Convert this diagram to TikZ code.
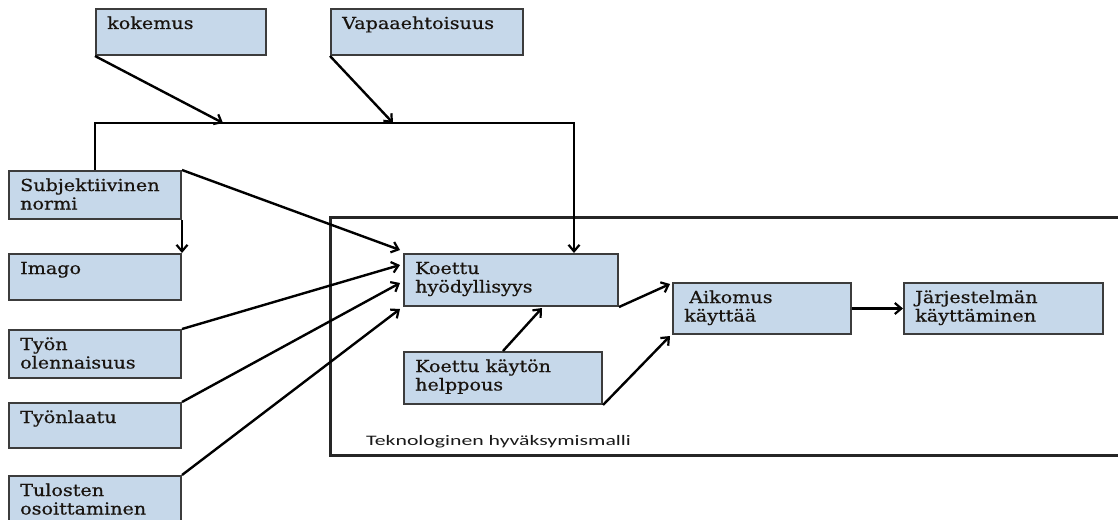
\documentclass[tikz,border=0pt]{standalone}
\usepackage{fontspec}
\setmainfont{DejaVu Serif}[FakeStretch=1.16,FakeBold=0.6]
\setsansfont{Carlito}[FakeStretch=1.5]
\usetikzlibrary{arrows.meta}
\definecolor{boxfill}{RGB}{198,216,234}
\definecolor{boxline}{RGB}{60,60,60}
\definecolor{inktext}{RGB}{25,20,15}

% box with its caption set at the top left corner
\newcommand\mkbox[6]{%
  \node[box,minimum width=#4pt,minimum height=#5pt] (#1) at (#2,#3) {};
  \node[lbl] (#1-t) at ([xshift=12pt,yshift=-21pt]#1.north west)
    {\parbox[t]{#4pt}{\raggedright #6}};}

\begin{document}
\begin{tikzpicture}[x=1pt,y=-1pt,
  box/.style={draw=boxline,fill=boxfill,line width=2pt,inner sep=0pt,anchor=north west},
  lbl/.style={anchor=base west,inner sep=0pt,font=\fontsize{16.5}{18.5}\selectfont,text=inktext},
  arr/.style={line width=2.4pt,-{Straight Barb[length=6.5pt,width=11pt,line width=2.2pt]}},
  frame/.style={line width=3pt,draw=black!85}]
\useasboundingbox (0,0) rectangle (1118,519);

% model frame
\draw[frame] (1140,217) -- (330,217) -- (330,455) -- (1140,455);
\node[anchor=base west,inner sep=0pt,font=\sffamily\fontsize{14.5}{16}\selectfont,text=black!90]
  (tam) at (366,445) {Teknologinen hyväksymismalli};

% boxes
\mkbox{kok}{95}{8}{170}{46}{kokemus}
\mkbox{vap}{330}{8}{192}{46}{Vapaaehtoisuus}
\mkbox{subj}{8}{170}{172}{48}{Subjektiivinen\\normi}
\mkbox{imago}{8}{253}{172}{46}{Imago}
\mkbox{tyon}{8}{329}{172}{48}{Työn\\olennaisuus}
\mkbox{laatu}{8}{402}{172}{45}{Työnlaatu}
\mkbox{tulos}{8}{475}{172}{60}{Tulosten\\osoittaminen}
\mkbox{koettu}{403}{253}{214}{52}{Koettu\\hyödyllisyys}
\mkbox{helpp}{403}{351}{198}{52}{Koettu käytön\\helppous}
\mkbox{aik}{672}{282}{178}{51}{\hspace*{5pt}Aikomus\\käyttää}
\mkbox{jarj}{903}{282}{199}{51}{Järjestelmän\\käyttäminen}

% connectors
\coordinate (busR) at (574,123);
\coordinate (kokTip) at (223,123);
\coordinate (vapTip) at (393,123);
\draw[arr] (subj.north) |- (busR) -- (busR |- koettu.north);
\draw[arr] (kok.south west) -- (kokTip);
\draw[arr] (vap.south west) -- (vapTip);
\draw[arr] (subj.north east) -- ([shift={(-3,-3)}]koettu.north west);
\draw[arr] (subj.south east) -- (imago.north east);
\draw[arr] (tyon.north east) -- ([shift={(-3,12)}]koettu.north west);
\draw[arr] (laatu.north east) -- ([shift={(-3,30)}]koettu.north west);
\draw[arr] (tulos.north east) -- ([shift={(-3,2)}]koettu.south west);
\draw[arr] (helpp.north) -- ([shift={(31,1)}]koettu.south);
\draw[arr] (koettu.south east) -- ([shift={(-2,2)}]aik.north west);
\draw[arr] (helpp.south east) -- ([shift={(-2,1)}]aik.south west);
\draw[arr] (aik.east) -- (jarj.west);
\end{tikzpicture}
\end{document}
